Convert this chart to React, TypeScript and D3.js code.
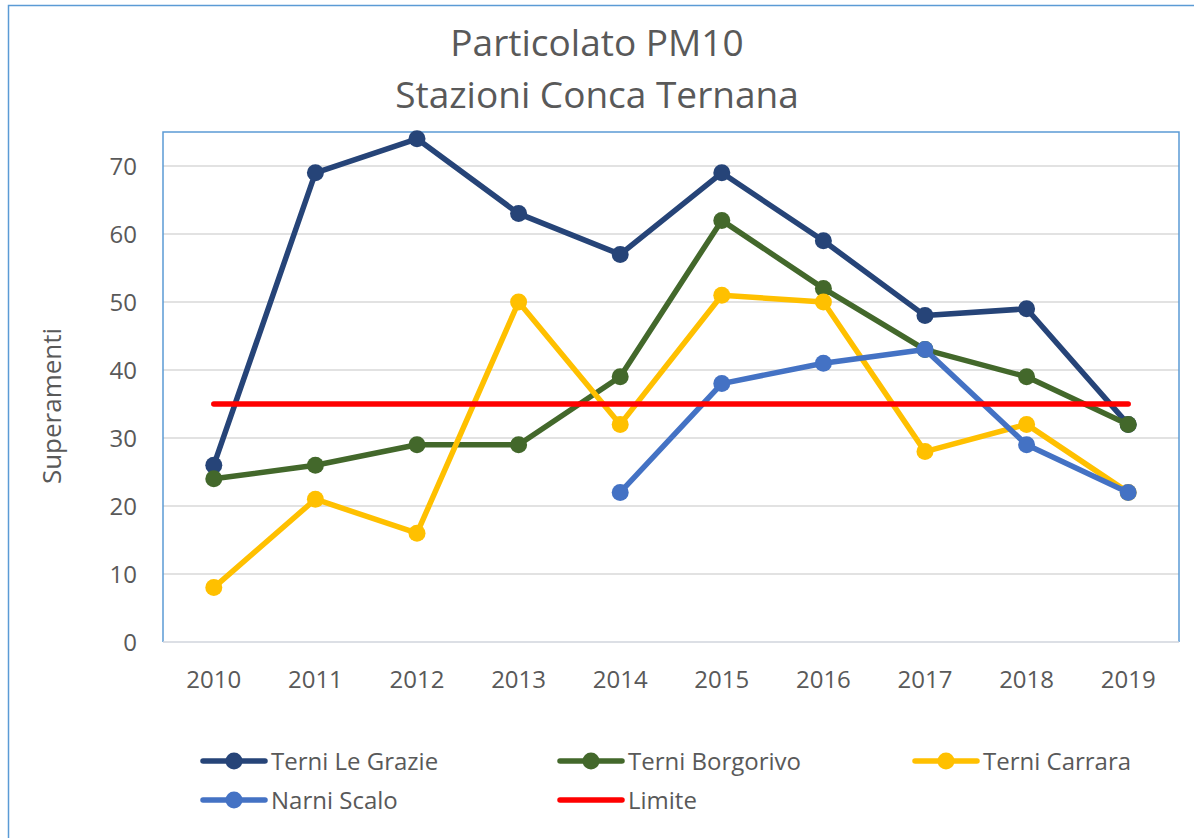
import * as d3 from 'd3';
import React, { useEffect, useRef } from 'react';

const years = ['2010', '2011', '2012', '2013', '2014', '2015', '2016', '2017', '2018', '2019'];
const yTicks = [0, 10, 20, 30, 40, 50, 60, 70];

const terniLeGrazie = [26, 69, 74, 63, 57, 69, 59, 48, 49, 32];
const terniBorgorivo = [24, 26, 29, 29, 39, 62, 52, 43, 39, 32];
const terniCarrara = [8, 21, 16, 50, 32, 51, 50, 28, 32, 22];
const narniScalo = [null, null, null, null, 22, 38, 41, 43, 29, 22];
const limite = [35, 35, 35, 35, 35, 35, 35, 35, 35, 35];

const seriesNames = ['Terni Le Grazie', 'Terni Borgorivo', 'Terni Carrara', 'Narni Scalo', 'Limite'];
const seriesColors = ['#264478', '#43682B', '#FFC000', '#4472C4', '#FF0000'];

const W = 1194;
const H = 838;
const font = '"Open Sans", "Noto Sans", sans-serif';

const App = () => {
  const ref = useRef<SVGSVGElement>(null);

  useEffect(() => {
    const svg = d3.select(ref.current);
    svg.selectAll('*').remove();

    const plot = { left: 163, top: 132, right: 1179, bottom: 642 };

    // outer chart frame (only top/left visible)
    svg.append('rect')
      .attr('x', 8.5).attr('y', 5.5)
      .attr('width', 1300).attr('height', 1000)
      .attr('fill', '#fff')
      .attr('stroke', '#5B9BD5').attr('stroke-width', 1.5);

    // title
    const title = svg.append('text')
      .attr('text-anchor', 'middle')
      .attr('font-family', font)
      .attr('font-size', 37)
      .attr('fill', '#595959');
    title.append('tspan').attr('x', 597).attr('y', 56).text('Particolato PM10');
    title.append('tspan').attr('x', 597).attr('y', 108).text('Stazioni Conca Ternana');

    const x = d3.scaleBand<string>()
      .domain(years)
      .range([plot.left, plot.right]);

    const y = d3.scaleLinear()
      .domain([0, 75])
      .range([plot.bottom, plot.top]);

    // gridlines
    svg.append('g')
      .selectAll('line')
      .data(yTicks.filter((t) => t > 0))
      .enter()
      .append('line')
      .attr('x1', plot.left).attr('x2', plot.right)
      .attr('y1', (d) => y(d)).attr('y2', (d) => y(d))
      .attr('stroke', '#D9D9D9').attr('stroke-width', 1.5);

    // plot area border
    svg.append('path')
      .attr('d', `M${plot.left},${plot.bottom}V${plot.top}H${plot.right}V${plot.bottom}`)
      .attr('fill', 'none')
      .attr('stroke', '#5B9BD5').attr('stroke-width', 1.5);
    svg.append('line')
      .attr('x1', plot.left).attr('x2', plot.right)
      .attr('y1', plot.bottom).attr('y2', plot.bottom)
      .attr('stroke', '#D0D5DD').attr('stroke-width', 1.5);

    // y tick labels
    svg.append('g')
      .selectAll('text')
      .data(yTicks)
      .enter()
      .append('text')
      .attr('x', 137)
      .attr('y', (d) => y(d) + 8.5)
      .attr('text-anchor', 'end')
      .attr('font-family', font)
      .attr('font-size', 24)
      .attr('fill', '#595959')
      .text((d) => d);

    // x tick labels
    svg.append('g')
      .selectAll('text')
      .data(years)
      .enter()
      .append('text')
      .attr('x', (d) => (x(d) as number) + x.bandwidth() / 2)
      .attr('y', 688)
      .attr('text-anchor', 'middle')
      .attr('font-family', font)
      .attr('font-size', 24)
      .attr('fill', '#595959')
      .text((d) => d);

    // y axis title
    svg.append('text')
      .attr('transform', 'translate(61,406) rotate(-90)')
      .attr('text-anchor', 'middle')
      .attr('font-family', font)
      .attr('font-size', 26)
      .attr('fill', '#595959')
      .text('Superamenti');

    const allSeries = [terniLeGrazie, terniBorgorivo, terniCarrara, narniScalo, limite];
    const cx = (i: number) => (x(years[i]) as number) + x.bandwidth() / 2;

    const line = d3.line<number | null>()
      .defined((d) => d !== null)
      .x((d, i) => cx(i))
      .y((d) => y(d as number));

    allSeries.forEach((data, s) => {
      const g = svg.append('g');
      g.append('path')
        .datum(data)
        .attr('d', line)
        .attr('fill', 'none')
        .attr('stroke', seriesColors[s])
        .attr('stroke-width', 5.5)
        .attr('stroke-linejoin', 'round')
        .attr('stroke-linecap', 'round');
      if (s < 4) {
        g.selectAll('circle')
          .data(data.map((v, i) => ({ v, i })).filter((d) => d.v !== null))
          .enter()
          .append('circle')
          .attr('cx', (d) => cx(d.i))
          .attr('cy', (d) => y(d.v as number))
          .attr('r', 8.5)
          .attr('fill', seriesColors[s]);
      }
    });

    // legend
    const legendPos = [
      { x: 201, y: 761 },
      { x: 558, y: 761 },
      { x: 913, y: 761 },
      { x: 201, y: 800 },
      { x: 558, y: 800 },
    ];
    seriesNames.forEach((name, s) => {
      const p = legendPos[s];
      const g = svg.append('g').attr('transform', `translate(${p.x},${p.y})`);
      g.append('line')
        .attr('x1', 2).attr('x2', 64)
        .attr('y1', 0).attr('y2', 0)
        .attr('stroke', seriesColors[s])
        .attr('stroke-width', 5.5)
        .attr('stroke-linecap', 'round');
      if (s < 4) {
        g.append('circle').attr('cx', 33).attr('cy', 0).attr('r', 8.5).attr('fill', seriesColors[s]);
      }
      g.append('text')
        .attr('x', 70)
        .attr('y', 8.5)
        .attr('font-family', font)
        .attr('font-size', 24)
        .attr('fill', '#595959')
        .text(name);
    });
  }, []);

  return (
    <div>
      <svg
        ref={ref}
        width={W}
        height={H}
        style={{ position: 'absolute', left: 0, top: 0, background: '#fff' }}
      />
    </div>
  );
};

export default App;
